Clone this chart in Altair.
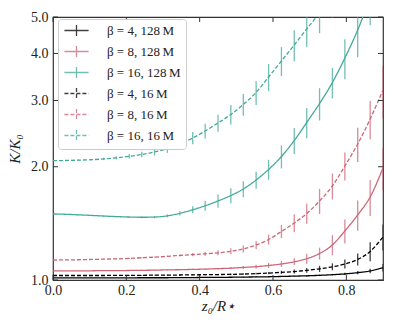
import altair as alt
import pandas as pd

# sample positions along z0/R*
x_vals = [0.0, 0.035, 0.069, 0.104, 0.138, 0.173, 0.208, 0.242, 0.277, 0.312,
          0.346, 0.381, 0.415, 0.450, 0.485, 0.519, 0.554, 0.588, 0.623, 0.658,
          0.692, 0.727, 0.762, 0.796, 0.831, 0.865, 0.900]

labels = ["β = 4, 128\u2009M", "β = 8, 128\u2009M", "β = 16, 128\u2009M",
          "β = 4, 16\u2009M", "β = 8, 16\u2009M", "β = 16, 16\u2009M"]
colors = ["#000000", "#CC6677", "#44AA99", "#000000", "#CC6677", "#44AA99"]
dashes = [[1, 0], [1, 0], [1, 0], [4, 2], [4, 2], [4, 2]]

b4_128 = [1.013, 1.013, 1.013, 1.013, 1.013, 1.013, 1.013, 1.014, 1.014, 1.014,
          1.015, 1.015, 1.016, 1.016, 1.017, 1.018, 1.019, 1.020, 1.022, 1.024,
          1.026, 1.029, 1.033, 1.038, 1.046, 1.057, 1.078]
b4_128_err = [0, 0, 0, 0, 0, 0, 0, 0.001, 0.001, 0.001, 0.001, 0.001, 0.001, 0.001,
              0.002, 0.002, 0.002, 0.002, 0.003, 0.003, 0.004, 0.004, 0.005, 0.007,
              0.010, 0.015, 0.025]

b8_128 = [1.057, 1.057, 1.057, 1.058, 1.059, 1.059, 1.060, 1.061, 1.062, 1.064,
          1.065, 1.067, 1.069, 1.072, 1.075, 1.080, 1.085, 1.093, 1.103, 1.118,
          1.139, 1.176, 1.239, 1.350, 1.489, 1.662, 1.985]
b8_128_err = [0, 0.001, 0.001, 0.001, 0.002, 0.002, 0.002, 0.003, 0.003, 0.003,
              0.004, 0.004, 0.005, 0.005, 0.007, 0.010, 0.013, 0.017, 0.020, 0.024,
              0.035, 0.043, 0.076, 0.099, 0.137, 0.183, 0.255]

b16_128 = [1.498, 1.495, 1.490, 1.485, 1.479, 1.474, 1.470, 1.468, 1.470, 1.481,
           1.504, 1.537, 1.575, 1.622, 1.677, 1.745, 1.844, 1.967, 2.129, 2.348,
           2.622, 2.945, 3.349, 3.890, 4.618, 5.617, 6.873]
b16_128_err = [0, 0.002, 0.003, 0.004, 0.005, 0.006, 0.007, 0.008, 0.010, 0.014,
               0.020, 0.033, 0.048, 0.065, 0.077, 0.085, 0.096, 0.120, 0.150, 0.187,
               0.241, 0.290, 0.310, 0.476, 0.707, 0.860, 1.050]

b4_16 = [1.028, 1.028, 1.028, 1.028, 1.028, 1.0285, 1.0285, 1.029, 1.030, 1.030,
         1.031, 1.032, 1.033, 1.034, 1.035, 1.037, 1.040, 1.043, 1.048, 1.053,
         1.061, 1.071, 1.084, 1.103, 1.134, 1.191, 1.301]
b4_16_err = [0, 0.001, 0.001, 0.001, 0.001, 0.002, 0.002, 0.002, 0.002, 0.003,
             0.003, 0.003, 0.004, 0.004, 0.005, 0.005, 0.006, 0.007, 0.010, 0.013,
             0.016, 0.020, 0.023, 0.030, 0.042, 0.069, 0.104]

b8_16 = [1.130, 1.131, 1.132, 1.134, 1.136, 1.138, 1.141, 1.146, 1.150, 1.156,
         1.162, 1.168, 1.174, 1.181, 1.192, 1.210, 1.239, 1.281, 1.346, 1.417,
         1.502, 1.622, 1.778, 2.009, 2.299, 2.678, 3.199]
b8_16_err = [0, 0.001, 0.001, 0.002, 0.002, 0.003, 0.003, 0.004, 0.004, 0.005,
             0.007, 0.011, 0.014, 0.018, 0.022, 0.026, 0.030, 0.039, 0.054, 0.078,
             0.092, 0.124, 0.141, 0.172, 0.239, 0.311, 0.509]

b16_16 = [2.075, 2.078, 2.082, 2.088, 2.098, 2.112, 2.132, 2.155, 2.189, 2.236,
          2.299, 2.385, 2.489, 2.614, 2.753, 2.927, 3.150, 3.463, 3.820, 4.213,
          4.646, 5.124, 5.668]
b16_16_err = [0, 0.004, 0.006, 0.010, 0.015, 0.020, 0.029, 0.037, 0.047, 0.059,
              0.073, 0.090, 0.111, 0.136, 0.163, 0.193, 0.231, 0.286, 0.339, 0.400,
              0.483, 0.596, 0.690]

x_ticks = [0.0, 0.2, 0.4, 0.6, 0.8]
y_ticks = [1.0, 2.0, 3.0, 4.0, 5.0]

series_vals = [b4_128, b8_128, b16_128, b4_16, b8_16, b16_16]
series_errs = [b4_128_err, b8_128_err, b16_128_err, b4_16_err, b8_16_err, b16_16_err]

rows = []
for lab, vals, errs in zip(labels, series_vals, series_errs):
    for xv, v, e in zip(x_vals, vals, errs):
        rows.append({"x": xv, "y": v, "lo": v - e, "hi": v + e, "series": lab})
df = pd.DataFrame(rows)

W, H = 330, 263
SERIF = "'Liberation Serif', 'DejaVu Serif', serif"

xscale = alt.Scale(domain=[0, 0.9], nice=False, zero=False)
yscale = alt.Scale(type="log", domain=[1, 5], nice=False)

xaxis = alt.Axis(values=x_ticks, format=".1f", tickSize=0, domain=False, grid=False,
                 labelFlush=False, labelFont=SERIF, labelFontSize=14, labelColor="#222",
                 labelPadding=3, title="z₀/R⋆", titleFont=SERIF, titleFontStyle="italic",
                 titleFontWeight="normal", titleFontSize=15, titleColor="#222",
                 titlePadding=1)
yaxis = alt.Axis(values=y_ticks, format=".1f", tickSize=0, domain=False, grid=False,
                 labelFlush=False, labelFont=SERIF, labelFontSize=14, labelColor="#222",
                 labelPadding=5, title="K/K₀", titleFont=SERIF, titleFontStyle="italic",
                 titleFontWeight="normal", titleFontSize=15, titleColor="#222",
                 titlePadding=8)

legend = alt.Legend(title=None, orient="none", legendX=5, legendY=2,
                    symbolType="M-2.2,0H2.2M0,-1V1", symbolSize=121, symbolOffset=7,
                    symbolStrokeWidth=1.3, labelFont=SERIF, labelFontSize=13,
                    labelColor="#222", fillColor="white", strokeColor="#cccccc",
                    cornerRadius=3, padding=5, rowPadding=4, labelOffset=24)

color = alt.Color("series:N", scale=alt.Scale(domain=labels, range=colors), legend=legend)
dash = alt.StrokeDash("series:N", scale=alt.Scale(domain=labels, range=dashes), legend=legend)

X = alt.X("x:Q", scale=xscale, axis=xaxis)
Y = alt.Y("y:Q", scale=yscale, axis=yaxis)

base = alt.Chart(df)
lines = base.mark_line(strokeWidth=1.3, interpolate="monotone", clip=True).encode(
    x=X, y=Y, color=color, strokeDash=dash, order="x:Q")
bars = base.transform_filter("datum.hi > datum.lo").mark_rule(
    strokeWidth=1.3, opacity=0.75, clip=True).encode(
    x=X, y=alt.Y("lo:Q", scale=yscale, axis=yaxis), y2="hi:Q", color=color)

xt = pd.DataFrame({"x": x_ticks})
yt = pd.DataFrame({"y": y_ticks})
tick_style = dict(color="#333", strokeWidth=1)
bottom_ticks = alt.Chart(xt).mark_rule(**tick_style).encode(
    x=X, y=alt.value(H), y2=alt.value(H - 5))
top_ticks = alt.Chart(xt).mark_rule(**tick_style).encode(
    x=X, y=alt.value(0), y2=alt.value(5))
left_ticks = alt.Chart(yt).mark_rule(**tick_style).encode(
    y=Y, x=alt.value(0), x2=alt.value(5))
right_ticks = alt.Chart(yt).mark_rule(**tick_style).encode(
    y=Y, x=alt.value(W), x2=alt.value(W - 5))

chart = alt.layer(lines, bars, bottom_ticks, top_ticks, left_ticks, right_ticks).properties(
    width=W, height=H,
    autosize=alt.AutoSizeParams(type="none"),
    padding={"left": 45, "top": 9, "right": 4, "bottom": 41},
    background="white",
).configure_view(stroke="#333", strokeWidth=1.2)

chart.save("out.html", embed_options={"renderer": "svg", "actions": False})
